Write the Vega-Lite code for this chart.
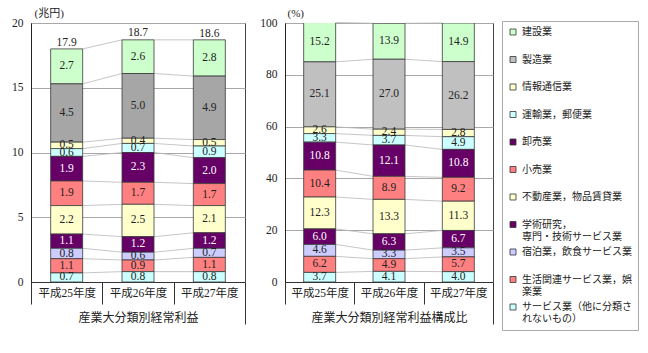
{
  "$schema": "https://vega.github.io/schema/vega-lite/v6.json",
  "background": "white",
  "padding": {"left": 11, "top": 6, "right": 2, "bottom": 0},
  "config": {
    "font": "Liberation Serif, Noto Sans CJK JP",
    "view": {"stroke": "#444", "strokeWidth": 1},
    "concat": {"spacing": 13},
    "axis": {
      "labelFont": "Liberation Serif, Noto Sans CJK JP",
      "titleFont": "Liberation Serif, Noto Sans CJK JP",
      "labelColor": "#222",
      "titleColor": "#222",
      "domainColor": "#333",
      "tickColor": "#333"
    },
    "axisY": {
      "titleAngle": 0, "titleAlign": "left", "titleY": -10,
      "titleBaseline": "middle", "titleFontSize": 11, "titleFontWeight": "normal",
      "ticks": false, "labelPadding": 8, "labelFontSize": 11.5,
      "grid": true, "gridColor": "#a8a8a8", "domainColor": "#222"
    }
  },
  "datasets": {
    "amt": [
      {"year": "平成25年度", "ind": "建設業", "v": 2.7},
      {"year": "平成26年度", "ind": "建設業", "v": 2.6},
      {"year": "平成27年度", "ind": "建設業", "v": 2.8},
      {"year": "平成25年度", "ind": "製造業", "v": 4.5},
      {"year": "平成26年度", "ind": "製造業", "v": 5.0},
      {"year": "平成27年度", "ind": "製造業", "v": 4.9},
      {"year": "平成25年度", "ind": "情報通信業", "v": 0.5},
      {"year": "平成26年度", "ind": "情報通信業", "v": 0.4},
      {"year": "平成27年度", "ind": "情報通信業", "v": 0.5},
      {"year": "平成25年度", "ind": "運輸業，郵便業", "v": 0.6},
      {"year": "平成26年度", "ind": "運輸業，郵便業", "v": 0.7},
      {"year": "平成27年度", "ind": "運輸業，郵便業", "v": 0.9},
      {"year": "平成25年度", "ind": "卸売業", "v": 1.9},
      {"year": "平成26年度", "ind": "卸売業", "v": 2.3},
      {"year": "平成27年度", "ind": "卸売業", "v": 2.0},
      {"year": "平成25年度", "ind": "小売業", "v": 1.9},
      {"year": "平成26年度", "ind": "小売業", "v": 1.7},
      {"year": "平成27年度", "ind": "小売業", "v": 1.7},
      {"year": "平成25年度", "ind": "不動産業，物品賃貸業", "v": 2.2},
      {"year": "平成26年度", "ind": "不動産業，物品賃貸業", "v": 2.5},
      {"year": "平成27年度", "ind": "不動産業，物品賃貸業", "v": 2.1},
      {"year": "平成25年度", "ind": "学術研究，専門・技術サービス業", "v": 1.1},
      {"year": "平成26年度", "ind": "学術研究，専門・技術サービス業", "v": 1.2},
      {"year": "平成27年度", "ind": "学術研究，専門・技術サービス業", "v": 1.2},
      {"year": "平成25年度", "ind": "宿泊業，飲食サービス業", "v": 0.8},
      {"year": "平成26年度", "ind": "宿泊業，飲食サービス業", "v": 0.6},
      {"year": "平成27年度", "ind": "宿泊業，飲食サービス業", "v": 0.7},
      {"year": "平成25年度", "ind": "生活関連サービス業，娯楽業", "v": 1.1},
      {"year": "平成26年度", "ind": "生活関連サービス業，娯楽業", "v": 0.9},
      {"year": "平成27年度", "ind": "生活関連サービス業，娯楽業", "v": 1.1},
      {"year": "平成25年度", "ind": "サービス業（他に分類されないもの）", "v": 0.7},
      {"year": "平成26年度", "ind": "サービス業（他に分類されないもの）", "v": 0.8},
      {"year": "平成27年度", "ind": "サービス業（他に分類されないもの）", "v": 0.8}
    ],
    "pct": [
      {"year": "平成25年度", "ind": "建設業", "v": 15.2},
      {"year": "平成26年度", "ind": "建設業", "v": 13.9},
      {"year": "平成27年度", "ind": "建設業", "v": 14.9},
      {"year": "平成25年度", "ind": "製造業", "v": 25.1},
      {"year": "平成26年度", "ind": "製造業", "v": 27.0},
      {"year": "平成27年度", "ind": "製造業", "v": 26.2},
      {"year": "平成25年度", "ind": "情報通信業", "v": 2.6},
      {"year": "平成26年度", "ind": "情報通信業", "v": 2.4},
      {"year": "平成27年度", "ind": "情報通信業", "v": 2.8},
      {"year": "平成25年度", "ind": "運輸業，郵便業", "v": 3.3},
      {"year": "平成26年度", "ind": "運輸業，郵便業", "v": 3.7},
      {"year": "平成27年度", "ind": "運輸業，郵便業", "v": 4.9},
      {"year": "平成25年度", "ind": "卸売業", "v": 10.8},
      {"year": "平成26年度", "ind": "卸売業", "v": 12.1},
      {"year": "平成27年度", "ind": "卸売業", "v": 10.8},
      {"year": "平成25年度", "ind": "小売業", "v": 10.4},
      {"year": "平成26年度", "ind": "小売業", "v": 8.9},
      {"year": "平成27年度", "ind": "小売業", "v": 9.2},
      {"year": "平成25年度", "ind": "不動産業，物品賃貸業", "v": 12.3},
      {"year": "平成26年度", "ind": "不動産業，物品賃貸業", "v": 13.3},
      {"year": "平成27年度", "ind": "不動産業，物品賃貸業", "v": 11.3},
      {"year": "平成25年度", "ind": "学術研究，専門・技術サービス業", "v": 6.0},
      {"year": "平成26年度", "ind": "学術研究，専門・技術サービス業", "v": 6.3},
      {"year": "平成27年度", "ind": "学術研究，専門・技術サービス業", "v": 6.7},
      {"year": "平成25年度", "ind": "宿泊業，飲食サービス業", "v": 4.6},
      {"year": "平成26年度", "ind": "宿泊業，飲食サービス業", "v": 3.3},
      {"year": "平成27年度", "ind": "宿泊業，飲食サービス業", "v": 3.5},
      {"year": "平成25年度", "ind": "生活関連サービス業，娯楽業", "v": 6.2},
      {"year": "平成26年度", "ind": "生活関連サービス業，娯楽業", "v": 4.9},
      {"year": "平成27年度", "ind": "生活関連サービス業，娯楽業", "v": 5.7},
      {"year": "平成25年度", "ind": "サービス業（他に分類されないもの）", "v": 3.7},
      {"year": "平成26年度", "ind": "サービス業（他に分類されないもの）", "v": 4.1},
      {"year": "平成27年度", "ind": "サービス業（他に分類されないもの）", "v": 4.0}
    ],
    "tot": [
      {"year": "平成25年度", "total": 17.9},
      {"year": "平成26年度", "total": 18.7},
      {"year": "平成27年度", "total": 18.6}
    ]
  },
  "hconcat": [
    {
      "width": 214,
      "height": 259,
      "data": {"name": "amt"},
      "transform": [
        {"calculate": "indexof(['サービス業（他に分類されないもの）','生活関連サービス業，娯楽業','宿泊業，飲食サービス業','学術研究，専門・技術サービス業','不動産業，物品賃貸業','小売業','卸売業','運輸業，郵便業','情報通信業','製造業','建設業'], datum.ind)", "as": "k"},
        {"window": [{"op": "sum", "field": "v", "as": "cum"}], "groupby": ["year"], "sort": [{"field": "k"}], "frame": [null, 0]},
        {"calculate": "datum.cum - datum.v", "as": "lo"},
        {"calculate": "datum.cum - datum.v / 2", "as": "mid"},
        {"window": [{"op": "lead", "field": "year", "as": "ny"}, {"op": "lead", "field": "cum", "as": "ncum"}], "groupby": ["ind"], "sort": [{"field": "year"}], "frame": [null, null]}
      ],
      "encoding": {
        "x": {
          "field": "year", "type": "nominal",
          "scale": {"paddingInner": 0, "paddingOuter": 0},
          "axis": {
            "title": "産業大分類別経常利益",
            "titleFontSize": 12, "titleFontWeight": "normal",
            "titleY": 35, "titleBaseline": "middle",
            "labelAngle": 0, "labelFontSize": 11.5,
            "labelPadding": {"condition": {"test": "datum.index > 0.5", "value": -37}, "value": -17},
            "tickBand": "extent",
            "tickSize": {"condition": {"test": "datum.index > 0.5", "value": 42}, "value": 22}
          }
        }
      },
      "layer": [
        {
          "transform": [{"filter": "datum.ny != null"}],
          "mark": {"type": "rule", "color": "#b8b8b8", "strokeWidth": 0.8, "xOffset": 16, "x2Offset": -16},
          "encoding": {
            "x2": {"field": "ny"},
            "y": {"field": "cum", "type": "quantitative", "scale": {"domain": [0, 20]}, "title": "(兆円)", "axis": {"values": [0, 5, 10, 15, 20], "titleX": 3}},
            "y2": {"field": "ncum"}
          }
        },
        {
          "mark": {"type": "bar", "width": 32, "stroke": "#3a3a3a", "strokeWidth": 0.8},
          "encoding": {
            "y": {"field": "lo", "type": "quantitative", "scale": {"domain": [0, 20]}, "title": "(兆円)", "axis": {"values": [0, 5, 10, 15, 20], "titleX": 3}},
            "y2": {"field": "cum"},
            "color": {
              "field": "ind", "type": "nominal",
              "scale": {
                "domain": ["建設業","製造業","情報通信業","運輸業，郵便業","卸売業","小売業","不動産業，物品賃貸業","学術研究，専門・技術サービス業","宿泊業，飲食サービス業","生活関連サービス業，娯楽業","サービス業（他に分類されないもの）"],
                "range": ["#ccffcc","#a6a6a6","#ffffcc","#ccffff","#660066","#ff8080","#ffffcc","#660066","#ccccff","#ff8080","#ccffff"]
              },
              "legend": null
            }
          }
        },
        {
          "mark": {"type": "text", "fontSize": 11.5, "baseline": "middle"},
          "encoding": {
            "y": {"field": "mid", "type": "quantitative", "title": "(兆円)", "axis": {"values": [0, 5, 10, 15, 20], "titleX": 3}},
            "text": {"field": "v", "type": "quantitative", "format": ".1f"},
            "color": {"condition": {"test": "datum.ind == '卸売業' || datum.ind == '学術研究，専門・技術サービス業'", "value": "white"}, "value": "#222"},
            "fontWeight": {"condition": {"test": "datum.ind == '卸売業' || datum.ind == '学術研究，専門・技術サービス業'", "value": "bold"}, "value": "normal"}
          }
        },
        {
          "data": {"name": "tot"},
          "mark": {"type": "text", "fontSize": 11.5, "baseline": "middle", "dy": -7, "color": "#222"},
          "encoding": {
            "y": {"field": "total", "type": "quantitative", "title": "(兆円)", "axis": {"values": [0, 5, 10, 15, 20], "titleX": 3}},
            "text": {"field": "total", "type": "quantitative", "format": ".1f"}
          }
        }
      ]
    },
    {
      "width": 208,
      "height": 259,
      "data": {"name": "pct"},
      "transform": [
        {"calculate": "indexof(['サービス業（他に分類されないもの）','生活関連サービス業，娯楽業','宿泊業，飲食サービス業','学術研究，専門・技術サービス業','不動産業，物品賃貸業','小売業','卸売業','運輸業，郵便業','情報通信業','製造業','建設業'], datum.ind)", "as": "k"},
        {"window": [{"op": "sum", "field": "v", "as": "cum"}], "groupby": ["year"], "sort": [{"field": "k"}], "frame": [null, 0]},
        {"calculate": "datum.cum - datum.v", "as": "lo"},
        {"calculate": "datum.cum - datum.v / 2", "as": "mid"},
        {"window": [{"op": "lead", "field": "year", "as": "ny"}, {"op": "lead", "field": "cum", "as": "ncum"}], "groupby": ["ind"], "sort": [{"field": "year"}], "frame": [null, null]}
      ],
      "encoding": {
        "x": {
          "field": "year", "type": "nominal",
          "scale": {"paddingInner": 0, "paddingOuter": 0},
          "axis": {
            "title": "産業大分類別経常利益構成比",
            "titleFontSize": 12, "titleFontWeight": "normal",
            "titleY": 35, "titleBaseline": "middle",
            "labelAngle": 0, "labelFontSize": 11.5,
            "labelPadding": {"condition": {"test": "datum.index > 0.5", "value": -37}, "value": -17},
            "tickBand": "extent",
            "tickSize": {"condition": {"test": "datum.index > 0.5", "value": 42}, "value": 22}
          }
        }
      },
      "layer": [
        {
          "transform": [{"filter": "datum.ny != null"}],
          "mark": {"type": "rule", "color": "#b8b8b8", "strokeWidth": 0.8, "xOffset": 16, "x2Offset": -16},
          "encoding": {
            "x2": {"field": "ny"},
            "y": {"field": "cum", "type": "quantitative", "scale": {"domain": [0, 100]}, "title": "(%)", "axis": {"values": [0, 20, 40, 60, 80, 100], "titleX": 2}},
            "y2": {"field": "ncum"}
          }
        },
        {
          "mark": {"type": "bar", "width": 32, "stroke": "#3a3a3a", "strokeWidth": 0.8, "clip": true},
          "encoding": {
            "y": {"field": "lo", "type": "quantitative", "scale": {"domain": [0, 100]}, "title": "(%)", "axis": {"values": [0, 20, 40, 60, 80, 100], "titleX": 2}},
            "y2": {"field": "cum"},
            "color": {
              "field": "ind", "type": "nominal",
              "scale": {
                "domain": ["建設業","製造業","情報通信業","運輸業，郵便業","卸売業","小売業","不動産業，物品賃貸業","学術研究，専門・技術サービス業","宿泊業，飲食サービス業","生活関連サービス業，娯楽業","サービス業（他に分類されないもの）"],
                "range": ["#ccffcc","#c0c0c0","#ffffcc","#ccffff","#660066","#ff8080","#ffffcc","#660066","#ccccff","#ff8080","#ccffff"]
              },
              "legend": {
                "title": null,
                "orient": "none",
                "legendX": 217,
                "legendY": -2,
                "padding": 6,
                "strokeColor": "#aaa",
                "labelFont": "Noto Sans CJK JP",
                "labelFontSize": 10,
                "labelColor": "#222",
                "labelLimit": 300,
                "labelBaseline": "middle",
                "symbolType": "square",
                "symbolSize": 36,
                "symbolStrokeColor": "#333",
                "symbolStrokeWidth": 0.8,
                "gridAlign": "all",
                "rowPadding": 5.5,
                "labelExpr": "datum.label == '学術研究，専門・技術サービス業' ? ['学術研究，', '専門・技術サービス業'] : datum.label == '生活関連サービス業，娯楽業' ? ['生活関連サービス業，娯', '楽業'] : datum.label == 'サービス業（他に分類されないもの）' ? ['サービス業（他に分類さ', 'れないもの）'] : datum.label"
              }
            }
          }
        },
        {
          "mark": {"type": "text", "fontSize": 11.5, "baseline": "middle"},
          "encoding": {
            "y": {"field": "mid", "type": "quantitative", "title": "(%)", "axis": {"values": [0, 20, 40, 60, 80, 100], "titleX": 2}},
            "text": {"field": "v", "type": "quantitative", "format": ".1f"},
            "color": {"condition": {"test": "datum.ind == '卸売業' || datum.ind == '学術研究，専門・技術サービス業'", "value": "white"}, "value": "#222"},
            "fontWeight": {"condition": {"test": "datum.ind == '卸売業' || datum.ind == '学術研究，専門・技術サービス業'", "value": "bold"}, "value": "normal"}
          }
        }
      ]
    }
  ],
  "resolve": {"scale": {"color": "independent"}}
}
